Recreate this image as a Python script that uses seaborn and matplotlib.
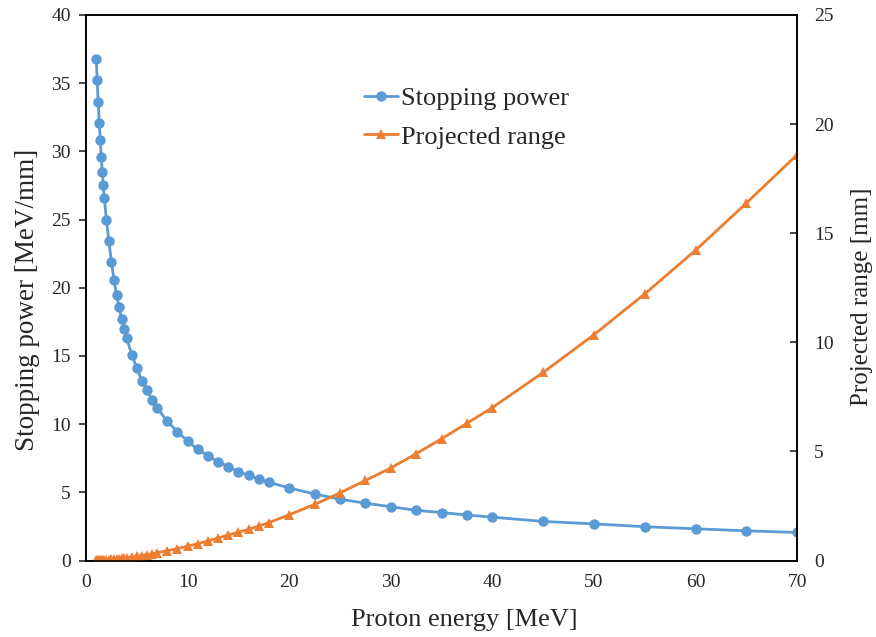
import numpy as np
import pandas as pd
import matplotlib
matplotlib.use("Agg")
import matplotlib.pyplot as plt
import seaborn as sns

# Proton energies [MeV]
energy = [1.0, 1.1, 1.2, 1.3, 1.4, 1.5, 1.6, 1.7, 1.8, 2.0, 2.25, 2.5, 2.75,
          3.0, 3.25, 3.5, 3.75, 4.0, 4.5, 5.0, 5.5, 6.0, 6.5, 7.0, 8.0, 9.0,
          10, 11, 12, 13, 14, 15, 16, 17, 18, 20, 22.5, 25, 27.5, 30, 32.5,
          35, 37.5, 40, 45, 50, 55, 60, 65, 70]

# Stopping power [MeV/mm]
stopping_power = [36.8, 35.2, 33.6, 32.1, 30.8, 29.6, 28.5, 27.5, 26.6, 25.0,
                  23.4, 21.9, 20.6, 19.5, 18.6, 17.7, 17.0, 16.3, 15.1, 14.1,
                  13.2, 12.5, 11.8, 11.2, 10.2, 9.45, 8.75, 8.15, 7.68, 7.25,
                  6.88, 6.52, 6.25, 5.97, 5.74, 5.32, 4.88, 4.50, 4.20, 3.95,
                  3.68, 3.52, 3.34, 3.18, 2.87, 2.69, 2.48, 2.33, 2.18, 2.06]

# Projected range [mm]
projected_range = [0.012, 0.014, 0.016, 0.018, 0.021, 0.023, 0.026, 0.029,
                   0.032, 0.038, 0.047, 0.056, 0.066, 0.077, 0.088, 0.100,
                   0.115, 0.130, 0.160, 0.195, 0.230, 0.270, 0.310, 0.360,
                   0.450, 0.550, 0.660, 0.770, 0.900, 1.03, 1.17, 1.30, 1.43,
                   1.58, 1.74, 2.10, 2.57, 3.10, 3.67, 4.24, 4.90, 5.58, 6.29,
                   7.01, 8.62, 10.35, 12.22, 14.22, 16.38, 18.60]

df = pd.DataFrame({"energy": energy, "sp": stopping_power, "rng": projected_range})

sns.set_style("white")
plt.rcParams["font.family"] = ["Liberation Serif", "DejaVu Serif"]

blue = "#5B9BD5"
orange = "#ED7D31"

fig = plt.figure(figsize=(8.76, 6.37), dpi=100)
ax = fig.add_axes([0.0982, 0.120, 0.8118, 0.8565])
ax2 = ax.twinx()

sns.lineplot(data=df, x="energy", y="sp", ax=ax, color=blue, marker="o",
             markersize=7.5, markeredgewidth=0, linewidth=2,
             label="Stopping power", legend=False)
sns.lineplot(data=df, x="energy", y="rng", ax=ax2, color=orange, marker="^",
             markersize=7.5, markeredgewidth=0, linewidth=2,
             label="Projected range", legend=False)

ax.set_xlim(0, 70)
ax.set_ylim(0, 40)
ax2.set_ylim(0, 25)
ax.set_xticks(np.arange(0, 71, 10))
ax.set_yticks(np.arange(0, 41, 5))
ax2.set_yticks(np.arange(0, 26, 5))

for a in (ax, ax2):
    for s in a.spines.values():
        s.set_color("black")
        s.set_linewidth(1.2)

ax.tick_params(axis="x", direction="in", length=5, width=1.2, labelsize=14, pad=10)
ax.tick_params(axis="y", direction="out", length=5, width=1.2, labelsize=14, pad=6)
ax2.tick_params(axis="y", direction="in", length=5, width=1.2, labelsize=14, pad=12)

ax.set_xlabel("Proton energy [MeV]", fontsize=19)
ax.set_ylabel("Stopping power [MeV/mm]", fontsize=19.5)
ax2.set_ylabel("Projected range [mm]", fontsize=18)
ax.xaxis.set_label_coords(0.532, -0.109)
ax.yaxis.set_label_coords(-0.0816, 0.4775)
ax2.yaxis.set_label_coords(1.0914, 0.483)
ax.xaxis.label.set_va("center")
ax.yaxis.label.set_va("center")
ax2.yaxis.label.set_va("center")

h1, l1 = ax.get_legend_handles_labels()
h2, l2 = ax2.get_legend_handles_labels()
ax2.legend(h1 + h2, l1 + l2, loc="center left", bbox_to_anchor=(0.391, 0.812),
           frameon=False, fontsize=19, handlelength=1.3, handletextpad=0.1,
           labelspacing=0.58, borderpad=0, borderaxespad=0)

fig.savefig("out.png", dpi=100)
